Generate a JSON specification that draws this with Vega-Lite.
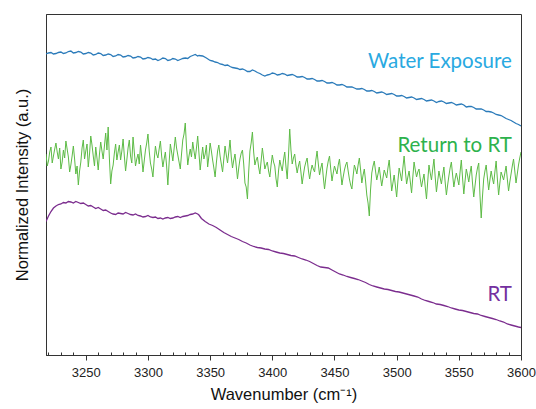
{
  "$schema": "https://vega.github.io/schema/vega-lite/v6.json",
  "width": 475,
  "height": 341,
  "autosize": {"type": "none"},
  "padding": {"left": 46, "top": 14, "right": 15, "bottom": 54},
  "background": "white",
  "config": {
    "view": {"stroke": "#333333", "strokeWidth": 1},
    "axis": {"labelFont": "Liberation Sans", "titleFont": "Liberation Sans", "grid": false}
  },
  "datasets": {
    "blue": [
      {"w":3218,"v":301},{"w":3220,"v":302},{"w":3222,"v":302.5},{"w":3224,"v":301},{"w":3226,"v":301.5},{"w":3228,"v":302.5},{"w":3230,"v":303},{"w":3232,"v":301.5},{"w":3234,"v":302},{"w":3236,"v":303.5},{"w":3238,"v":304},{"w":3240,"v":302},{"w":3242,"v":302.5},{"w":3244,"v":303.5},{"w":3246,"v":303},{"w":3248,"v":301},{"w":3250,"v":301.5},{"w":3252,"v":302.5},{"w":3254,"v":302},{"w":3256,"v":300},{"w":3258,"v":300.5},{"w":3260,"v":302},{"w":3262,"v":301.5},{"w":3264,"v":299.5},{"w":3266,"v":300},{"w":3268,"v":301},{"w":3270,"v":300.5},{"w":3272,"v":298.5},{"w":3274,"v":299},{"w":3276,"v":300.5},{"w":3278,"v":300},{"w":3280,"v":298},{"w":3282,"v":298.5},{"w":3284,"v":299.5},{"w":3286,"v":299},{"w":3288,"v":297},{"w":3290,"v":297.5},{"w":3292,"v":298.5},{"w":3294,"v":298},{"w":3296,"v":296},{"w":3298,"v":296.5},{"w":3300,"v":297.5},{"w":3302,"v":297},{"w":3304,"v":295.5},{"w":3306,"v":296},{"w":3308,"v":294.5},{"w":3310,"v":295.5},{"w":3312,"v":297},{"w":3314,"v":296.5},{"w":3316,"v":294.5},{"w":3318,"v":295},{"w":3320,"v":296.5},{"w":3322,"v":296},{"w":3324,"v":294.5},{"w":3326,"v":295.5},{"w":3328,"v":296.5},{"w":3330,"v":297},{"w":3332,"v":296.5},{"w":3334,"v":298.5},{"w":3336,"v":299.5},{"w":3338,"v":300.5},{"w":3340,"v":299},{"w":3341,"v":299.5},{"w":3344,"v":299},{"w":3347,"v":297},{"w":3350,"v":294.5},{"w":3352,"v":294},{"w":3354,"v":293},{"w":3356,"v":292.5},{"w":3358,"v":291},{"w":3360,"v":290.5},{"w":3362,"v":289.5},{"w":3364,"v":290},{"w":3366,"v":288.5},{"w":3368,"v":287.5},{"w":3370,"v":287},{"w":3372,"v":286.5},{"w":3374,"v":285.5},{"w":3376,"v":286},{"w":3378,"v":285},{"w":3380,"v":283.5},{"w":3382,"v":283.5},{"w":3384,"v":285},{"w":3386,"v":284},{"w":3388,"v":282.5},{"w":3390,"v":281.5},{"w":3392,"v":280},{"w":3394,"v":279},{"w":3396,"v":280},{"w":3398,"v":280.5},{"w":3400,"v":282},{"w":3402,"v":281.5},{"w":3404,"v":280},{"w":3406,"v":280.5},{"w":3408,"v":281.5},{"w":3410,"v":281},{"w":3412,"v":279.5},{"w":3414,"v":280},{"w":3416,"v":280.5},{"w":3418,"v":279.5},{"w":3420,"v":278},{"w":3422,"v":278},{"w":3424,"v":278.5},{"w":3426,"v":277.5},{"w":3428,"v":276},{"w":3430,"v":276},{"w":3432,"v":276.5},{"w":3434,"v":275.5},{"w":3436,"v":274},{"w":3438,"v":274},{"w":3440,"v":274.5},{"w":3442,"v":273.5},{"w":3444,"v":272},{"w":3446,"v":272},{"w":3448,"v":272.5},{"w":3450,"v":271.5},{"w":3452,"v":270},{"w":3454,"v":270},{"w":3456,"v":270.5},{"w":3458,"v":269.5},{"w":3460,"v":268},{"w":3462,"v":268},{"w":3464,"v":268},{"w":3466,"v":267},{"w":3468,"v":266},{"w":3470,"v":266},{"w":3472,"v":266.5},{"w":3474,"v":265.5},{"w":3476,"v":264},{"w":3478,"v":264},{"w":3480,"v":264.5},{"w":3482,"v":263.5},{"w":3484,"v":262},{"w":3486,"v":262.5},{"w":3488,"v":263},{"w":3490,"v":262},{"w":3492,"v":260.5},{"w":3494,"v":261},{"w":3496,"v":261.5},{"w":3498,"v":260.5},{"w":3500,"v":259},{"w":3502,"v":259},{"w":3504,"v":259.5},{"w":3506,"v":258.5},{"w":3508,"v":257},{"w":3510,"v":257.5},{"w":3512,"v":258},{"w":3514,"v":257},{"w":3516,"v":255.5},{"w":3518,"v":256},{"w":3520,"v":256.5},{"w":3522,"v":255.5},{"w":3524,"v":254},{"w":3526,"v":254.5},{"w":3528,"v":255},{"w":3530,"v":254},{"w":3532,"v":252.5},{"w":3534,"v":253.5},{"w":3536,"v":254},{"w":3538,"v":253},{"w":3540,"v":251.5},{"w":3542,"v":252},{"w":3544,"v":252.5},{"w":3546,"v":251.5},{"w":3548,"v":250},{"w":3550,"v":250.5},{"w":3552,"v":251},{"w":3554,"v":250},{"w":3556,"v":248},{"w":3558,"v":248.5},{"w":3560,"v":248.5},{"w":3562,"v":247.5},{"w":3564,"v":246},{"w":3566,"v":246},{"w":3568,"v":246},{"w":3570,"v":245},{"w":3572,"v":243.5},{"w":3574,"v":243.5},{"w":3576,"v":243},{"w":3578,"v":242},{"w":3580,"v":240.5},{"w":3582,"v":240},{"w":3584,"v":239.5},{"w":3586,"v":238},{"w":3588,"v":236.5},{"w":3590,"v":235.5},{"w":3592,"v":234.5},{"w":3594,"v":233},{"w":3596,"v":231.5},{"w":3598,"v":230.5},{"w":3600,"v":229}
    ],
    "green": [
      {"w":3218,"v":201},{"w":3219,"v":189},{"w":3220,"v":194},{"w":3221,"v":203},{"w":3222,"v":208},{"w":3223,"v":192},{"w":3224,"v":199},{"w":3225,"v":206},{"w":3226,"v":212},{"w":3227,"v":203},
      {"w":3228,"v":196},{"w":3229,"v":207},{"w":3230,"v":186},{"w":3231,"v":193},{"w":3232,"v":205},{"w":3233,"v":197},{"w":3234,"v":214},{"w":3235,"v":206},{"w":3236,"v":198},{"w":3237,"v":183},
      {"w":3238,"v":190},{"w":3239,"v":199},{"w":3240,"v":209},{"w":3241,"v":196},{"w":3242,"v":181},{"w":3243,"v":189},{"w":3244,"v":170},{"w":3245,"v":184},{"w":3246,"v":193},{"w":3247,"v":207},
      {"w":3248,"v":215},{"w":3249,"v":196},{"w":3250,"v":204},{"w":3251,"v":211},{"w":3252,"v":188},{"w":3253,"v":201},{"w":3254,"v":219},{"w":3255,"v":210},{"w":3256,"v":199},{"w":3257,"v":189},
      {"w":3258,"v":208},{"w":3259,"v":197},{"w":3260,"v":185},{"w":3261,"v":201},{"w":3262,"v":213},{"w":3263,"v":204},{"w":3264,"v":196},{"w":3265,"v":209},{"w":3266,"v":222},{"w":3267,"v":205},
      {"w":3268,"v":228},{"w":3269,"v":196},{"w":3270,"v":171},{"w":3271,"v":184},{"w":3272,"v":190},{"w":3273,"v":202},{"w":3274,"v":211},{"w":3275,"v":195},{"w":3276,"v":203},{"w":3277,"v":210},
      {"w":3278,"v":195},{"w":3279,"v":204},{"w":3280,"v":216},{"w":3281,"v":199},{"w":3282,"v":184},{"w":3283,"v":195},{"w":3284,"v":207},{"w":3285,"v":215},{"w":3286,"v":199},{"w":3287,"v":192},
      {"w":3288,"v":218},{"w":3289,"v":203},{"w":3290,"v":189},{"w":3291,"v":196},{"w":3292,"v":201},{"w":3293,"v":191},{"w":3294,"v":210},{"w":3295,"v":198},{"w":3296,"v":183},{"w":3297,"v":194},
      {"w":3298,"v":205},{"w":3299,"v":212},{"w":3300,"v":221},{"w":3301,"v":204},{"w":3302,"v":192},{"w":3303,"v":186},{"w":3304,"v":178},{"w":3305,"v":195},{"w":3306,"v":209},{"w":3307,"v":201},
      {"w":3308,"v":197},{"w":3309,"v":206},{"w":3310,"v":214},{"w":3311,"v":199},{"w":3312,"v":188},{"w":3313,"v":196},{"w":3314,"v":203},{"w":3315,"v":189},{"w":3316,"v":170},{"w":3317,"v":192},
      {"w":3318,"v":211},{"w":3319,"v":203},{"w":3320,"v":194},{"w":3321,"v":206},{"w":3322,"v":218},{"w":3323,"v":207},{"w":3324,"v":200},{"w":3325,"v":193},{"w":3326,"v":186},{"w":3327,"v":201},
      {"w":3328,"v":215},{"w":3329,"v":221},{"w":3330,"v":232},{"w":3331,"v":208},{"w":3332,"v":190},{"w":3333,"v":199},{"w":3334,"v":206},{"w":3335,"v":198},{"w":3336,"v":213},{"w":3337,"v":204},
      {"w":3338,"v":196},{"w":3339,"v":207},{"w":3340,"v":219},{"w":3341,"v":202},{"w":3342,"v":185},{"w":3343,"v":197},{"w":3344,"v":208},{"w":3345,"v":196},{"w":3346,"v":201},{"w":3347,"v":210},
      {"w":3348,"v":188},{"w":3349,"v":199},{"w":3350,"v":212},{"w":3351,"v":204},{"w":3352,"v":195},{"w":3353,"v":187},{"w":3354,"v":178},{"w":3355,"v":192},{"w":3356,"v":204},{"w":3357,"v":210},
      {"w":3358,"v":199},{"w":3359,"v":191},{"w":3360,"v":183},{"w":3361,"v":196},{"w":3362,"v":209},{"w":3363,"v":200},{"w":3364,"v":192},{"w":3365,"v":203},{"w":3366,"v":215},{"w":3367,"v":198},
      {"w":3368,"v":187},{"w":3369,"v":195},{"w":3370,"v":201},{"w":3371,"v":189},{"w":3372,"v":176},{"w":3373,"v":187},{"w":3374,"v":196},{"w":3375,"v":202},{"w":3376,"v":205},{"w":3377,"v":191},
      {"w":3378,"v":172},{"w":3379,"v":168},{"w":3380,"v":156},{"w":3381,"v":183},{"w":3382,"v":204},{"w":3383,"v":212},{"w":3384,"v":223},{"w":3385,"v":203},{"w":3386,"v":190},{"w":3387,"v":195},
      {"w":3388,"v":198},{"w":3389,"v":188},{"w":3390,"v":181},{"w":3391,"v":194},{"w":3392,"v":207},{"w":3393,"v":197},{"w":3394,"v":186},{"w":3395,"v":190},{"w":3396,"v":193},{"w":3397,"v":184},
      {"w":3398,"v":178},{"w":3399,"v":190},{"w":3400,"v":200},{"w":3401,"v":193},{"w":3402,"v":189},{"w":3403,"v":176},{"w":3404,"v":168},{"w":3405,"v":184},{"w":3406,"v":195},{"w":3407,"v":189},
      {"w":3408,"v":184},{"w":3409,"v":195},{"w":3410,"v":203},{"w":3411,"v":188},{"w":3412,"v":176},{"w":3413,"v":199},{"w":3414,"v":226},{"w":3415,"v":205},{"w":3416,"v":191},{"w":3417,"v":197},
      {"w":3418,"v":201},{"w":3419,"v":190},{"w":3420,"v":182},{"w":3421,"v":189},{"w":3422,"v":194},{"w":3423,"v":183},{"w":3424,"v":171},{"w":3425,"v":180},{"w":3426,"v":188},{"w":3427,"v":193},
      {"w":3428,"v":197},{"w":3429,"v":185},{"w":3430,"v":176},{"w":3431,"v":184},{"w":3432,"v":190},{"w":3433,"v":186},{"w":3434,"v":183},{"w":3435,"v":195},{"w":3436,"v":204},{"w":3437,"v":191},
      {"w":3438,"v":180},{"w":3439,"v":187},{"w":3440,"v":192},{"w":3441,"v":178},{"w":3442,"v":166},{"w":3443,"v":177},{"w":3444,"v":187},{"w":3445,"v":194},{"w":3446,"v":199},{"w":3447,"v":186},
      {"w":3448,"v":174},{"w":3449,"v":182},{"w":3450,"v":189},{"w":3451,"v":185},{"w":3452,"v":181},{"w":3453,"v":190},{"w":3454,"v":196},{"w":3455,"v":183},{"w":3456,"v":170},{"w":3457,"v":178},
      {"w":3458,"v":185},{"w":3459,"v":190},{"w":3460,"v":193},{"w":3461,"v":184},{"w":3462,"v":176},{"w":3463,"v":170},{"w":3464,"v":166},{"w":3465,"v":179},{"w":3466,"v":190},{"w":3467,"v":186},
      {"w":3468,"v":181},{"w":3469,"v":190},{"w":3470,"v":197},{"w":3471,"v":185},{"w":3472,"v":172},{"w":3473,"v":180},{"w":3474,"v":186},{"w":3475,"v":174},{"w":3476,"v":160},{"w":3477,"v":152},
      {"w":3478,"v":139},{"w":3479,"v":165},{"w":3480,"v":182},{"w":3481,"v":189},{"w":3482,"v":194},{"w":3483,"v":184},{"w":3484,"v":175},{"w":3485,"v":181},{"w":3486,"v":188},{"w":3487,"v":178},
      {"w":3488,"v":169},{"w":3489,"v":177},{"w":3490,"v":185},{"w":3491,"v":181},{"w":3492,"v":177},{"w":3493,"v":187},{"w":3494,"v":195},{"w":3495,"v":180},{"w":3496,"v":164},{"w":3497,"v":172},
      {"w":3498,"v":180},{"w":3499,"v":169},{"w":3500,"v":158},{"w":3501,"v":174},{"w":3502,"v":187},{"w":3503,"v":181},{"w":3504,"v":174},{"w":3505,"v":187},{"w":3506,"v":199},{"w":3507,"v":184},
      {"w":3508,"v":171},{"w":3509,"v":178},{"w":3510,"v":184},{"w":3511,"v":173},{"w":3512,"v":162},{"w":3513,"v":178},{"w":3514,"v":193},{"w":3515,"v":185},{"w":3516,"v":178},{"w":3517,"v":183},
      {"w":3518,"v":186},{"w":3519,"v":176},{"w":3520,"v":168},{"w":3521,"v":175},{"w":3522,"v":181},{"w":3523,"v":168},{"w":3524,"v":156},{"w":3525,"v":174},{"w":3526,"v":190},{"w":3527,"v":182},
      {"w":3528,"v":175},{"w":3529,"v":186},{"w":3530,"v":196},{"w":3531,"v":178},{"w":3532,"v":163},{"w":3533,"v":174},{"w":3534,"v":184},{"w":3535,"v":177},{"w":3536,"v":171},{"w":3537,"v":180},
      {"w":3538,"v":188},{"w":3539,"v":173},{"w":3540,"v":160},{"w":3541,"v":170},{"w":3542,"v":179},{"w":3543,"v":187},{"w":3544,"v":193},{"w":3545,"v":180},{"w":3546,"v":168},{"w":3547,"v":176},
      {"w":3548,"v":182},{"w":3549,"v":176},{"w":3550,"v":170},{"w":3551,"v":183},{"w":3552,"v":195},{"w":3553,"v":177},{"w":3554,"v":161},{"w":3555,"v":174},{"w":3556,"v":186},{"w":3557,"v":180},
      {"w":3558,"v":173},{"w":3559,"v":182},{"w":3560,"v":189},{"w":3561,"v":172},{"w":3562,"v":158},{"w":3563,"v":169},{"w":3564,"v":180},{"w":3565,"v":187},{"w":3566,"v":192},{"w":3567,"v":160},
      {"w":3568,"v":137},{"w":3569,"v":158},{"w":3570,"v":176},{"w":3571,"v":184},{"w":3572,"v":190},{"w":3573,"v":177},{"w":3574,"v":165},{"w":3575,"v":175},{"w":3576,"v":184},{"w":3577,"v":177},
      {"w":3578,"v":171},{"w":3579,"v":183},{"w":3580,"v":194},{"w":3581,"v":176},{"w":3582,"v":160},{"w":3583,"v":172},{"w":3584,"v":183},{"w":3585,"v":179},{"w":3586,"v":175},{"w":3587,"v":182},
      {"w":3588,"v":189},{"w":3589,"v":176},{"w":3590,"v":164},{"w":3591,"v":173},{"w":3592,"v":181},{"w":3593,"v":189},{"w":3594,"v":196},{"w":3595,"v":184},{"w":3596,"v":172},{"w":3597,"v":181},
      {"w":3598,"v":190},{"w":3599,"v":197},{"w":3600,"v":203}
    ],
    "purple": [
      {"w":3218,"v":133.5},{"w":3220,"v":139},{"w":3222,"v":143.5},{"w":3224,"v":147},{"w":3226,"v":149},{"w":3228,"v":150.5},{"w":3230,"v":151},{"w":3232,"v":152.5},{"w":3234,"v":152},{"w":3236,"v":153.5},{"w":3238,"v":153},{"w":3240,"v":152},{"w":3242,"v":153.5},{"w":3244,"v":152.5},{"w":3246,"v":151.5},{"w":3248,"v":152},{"w":3250,"v":150.5},{"w":3252,"v":149},{"w":3254,"v":149.5},{"w":3256,"v":148},{"w":3258,"v":146.5},{"w":3260,"v":147.5},{"w":3262,"v":146},{"w":3264,"v":144.5},{"w":3266,"v":145},{"w":3268,"v":143.5},{"w":3270,"v":142},{"w":3272,"v":141},{"w":3274,"v":140.5},{"w":3276,"v":142},{"w":3278,"v":141.5},{"w":3280,"v":141},{"w":3282,"v":142.5},{"w":3284,"v":141.5},{"w":3286,"v":140.5},{"w":3288,"v":140},{"w":3290,"v":141},{"w":3292,"v":139.5},{"w":3294,"v":139},{"w":3296,"v":138},{"w":3298,"v":138.5},{"w":3300,"v":139.5},{"w":3302,"v":138},{"w":3304,"v":137.5},{"w":3306,"v":138},{"w":3308,"v":136.5},{"w":3310,"v":137},{"w":3312,"v":136},{"w":3314,"v":137},{"w":3316,"v":137.5},{"w":3318,"v":136.5},{"w":3320,"v":137},{"w":3322,"v":138},{"w":3324,"v":138.5},{"w":3326,"v":137.5},{"w":3328,"v":138.5},{"w":3330,"v":139},{"w":3332,"v":139.5},{"w":3334,"v":140.5},{"w":3336,"v":141},{"w":3338,"v":142},{"w":3340,"v":141},{"w":3341,"v":140},{"w":3343,"v":136.5},{"w":3346,"v":133.5},{"w":3349,"v":131},{"w":3352,"v":129.5},{"w":3355,"v":127.5},{"w":3358,"v":125},{"w":3361,"v":122.5},{"w":3364,"v":120.5},{"w":3367,"v":118.5},{"w":3370,"v":117},{"w":3373,"v":115.5},{"w":3376,"v":113.5},{"w":3379,"v":112},{"w":3382,"v":110},{"w":3385,"v":108.5},{"w":3388,"v":107.5},{"w":3391,"v":107},{"w":3394,"v":106},{"w":3397,"v":105.5},{"w":3400,"v":104},{"w":3403,"v":103},{"w":3406,"v":102},{"w":3409,"v":101.5},{"w":3412,"v":100.5},{"w":3415,"v":99.5},{"w":3418,"v":99},{"w":3421,"v":97.5},{"w":3424,"v":96},{"w":3427,"v":95},{"w":3430,"v":93.5},{"w":3433,"v":91.5},{"w":3436,"v":89.5},{"w":3439,"v":88},{"w":3442,"v":87.5},{"w":3445,"v":87},{"w":3448,"v":85},{"w":3451,"v":83},{"w":3454,"v":81},{"w":3457,"v":80},{"w":3460,"v":78.5},{"w":3463,"v":77.5},{"w":3466,"v":76.5},{"w":3469,"v":75.5},{"w":3472,"v":74},{"w":3475,"v":72.5},{"w":3478,"v":70.5},{"w":3481,"v":69},{"w":3484,"v":68},{"w":3487,"v":67},{"w":3490,"v":66},{"w":3493,"v":65.5},{"w":3496,"v":64.5},{"w":3499,"v":63.5},{"w":3502,"v":63},{"w":3505,"v":62},{"w":3508,"v":61},{"w":3511,"v":60},{"w":3514,"v":59},{"w":3517,"v":58},{"w":3520,"v":56},{"w":3523,"v":54.5},{"w":3526,"v":53.5},{"w":3529,"v":52.5},{"w":3532,"v":51},{"w":3535,"v":50.5},{"w":3538,"v":49.5},{"w":3541,"v":48.5},{"w":3544,"v":47},{"w":3547,"v":46},{"w":3550,"v":45},{"w":3553,"v":44.5},{"w":3556,"v":43.5},{"w":3559,"v":42.5},{"w":3562,"v":41.5},{"w":3565,"v":41},{"w":3568,"v":39.5},{"w":3571,"v":38.5},{"w":3574,"v":37.5},{"w":3577,"v":36.5},{"w":3580,"v":35.5},{"w":3583,"v":34},{"w":3586,"v":33},{"w":3589,"v":31},{"w":3592,"v":30},{"w":3595,"v":29},{"w":3598,"v":28},{"w":3600,"v":27.5}
    ],
    "labels": [
      {"w":3592.7,"v":286.8,"t":"Water Exposure"},
      {"w":3592.7,"v":203.3,"t":"Return to RT"},
      {"w":3592.7,"v":54,"t":"RT"}
    ]
  },
  "resolve": {"axis": {"x": "independent"}},
  "layer": [
    {
      "data": {"name": "blue"},
      "mark": {"type": "line", "color": "#2B7BBA", "strokeWidth": 1.3, "clip": true},
      "encoding": {
        "x": {"field": "w", "type": "quantitative", "scale": {"domain": [3218, 3600], "nice": false, "zero": false},
          "axis": {"values": [3250, 3300, 3350, 3400, 3450, 3500, 3550, 3600], "format": "d", "tickSize": 5, "tickColor": "#333333",
            "domainColor": "#333333", "labelFont": "Liberation Sans", "labelFontSize": 13, "labelColor": "#222222", "labelPadding": 6, "labelFlush": false,
            "title": "Wavenumber (cm⁻¹)", "titleFont": "Liberation Sans", "titleFontSize": 16.5, "titleFontWeight": "normal", "titleColor": "#111111", "titlePadding": 7}},
        "y": {"field": "v", "type": "quantitative", "scale": {"domain": [0, 341], "nice": false},
          "axis": {"ticks": false, "labels": false, "domainColor": "#333333", "title": "Normalized Intensity (a.u.)",
            "titleFont": "Liberation Sans", "titleFontSize": 16.5, "titleFontWeight": "normal", "titleColor": "#111111", "titlePadding": 16}}
      }
    },
    {
      "data": {"name": "green"},
      "mark": {"type": "line", "color": "#5DBB46", "strokeWidth": 1, "clip": true},
      "encoding": {
        "x": {"field": "w", "type": "quantitative",
          "axis": {"orient": "bottom", "values": [3220, 3230, 3240, 3260, 3270, 3280, 3290, 3310, 3320, 3330, 3340, 3360, 3370, 3380, 3390, 3410, 3420, 3430, 3440, 3460, 3470, 3480, 3490, 3510, 3520, 3530, 3540, 3560, 3570, 3580, 3590],
            "labels": false, "domain": false, "tickSize": -3, "tickColor": "#333333", "title": null}},
        "y": {"field": "v", "type": "quantitative"}
      }
    },
    {
      "data": {"name": "purple"},
      "mark": {"type": "line", "color": "#7B2D8E", "strokeWidth": 1.3, "clip": true},
      "encoding": {
        "x": {"field": "w", "type": "quantitative", "axis": null},
        "y": {"field": "v", "type": "quantitative"}
      }
    },
    {
      "data": {"name": "labels"},
      "mark": {"type": "text", "align": "right", "baseline": "alphabetic", "font": "Lato", "fontSize": 20.5},
      "encoding": {
        "x": {"field": "w", "type": "quantitative", "axis": null},
        "y": {"field": "v", "type": "quantitative"},
        "text": {"field": "t"},
        "color": {"field": "t", "type": "nominal", "legend": null,
          "scale": {"domain": ["Water Exposure", "Return to RT", "RT"], "range": ["#29A9E1", "#2DB24C", "#7430A0"]}}
      }
    }
  ]
}
